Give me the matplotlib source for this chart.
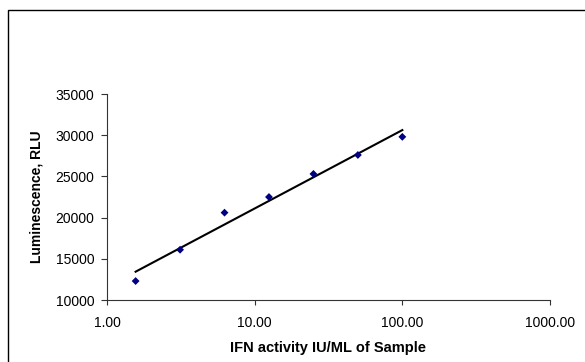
import numpy as np
import matplotlib.pyplot as plt
from matplotlib.patches import Rectangle
from matplotlib.ticker import FixedLocator, FuncFormatter, NullLocator

plt.rcParams['font.family'] = ['Liberation Sans', 'DejaVu Sans']

# IFN standard curve (two-fold dilutions)
ifn_activity = [1.5625, 3.125, 6.25, 12.5, 25, 50, 100]
luminescence = [12300, 16100, 20600, 22500, 25300, 27600, 29800]

x_ticks = [1, 10, 100, 1000]
y_ticks = [10000, 15000, 20000, 25000, 30000, 35000]

# logarithmic trendline (least squares on ln x)
slope, intercept = np.polyfit(np.log(ifn_activity), luminescence, 1)
fit_x = np.exp(np.linspace(np.log(ifn_activity[0]), np.log(ifn_activity[-1]), 50))
fit_y = slope * np.log(fit_x) + intercept

fig = plt.figure(figsize=(5.85, 3.62), dpi=100)
fig.patches.append(Rectangle((8 / 585, -0.1), 1.2, 1 - 10 / 362 + 0.1,
                             transform=fig.transFigure, fill=False,
                             edgecolor='black', linewidth=1.0))

ax = fig.add_axes([107 / 585, 62 / 362, 443 / 585, 206 / 362])
ax.plot(fit_x, fit_y, color='black', linewidth=1.5, zorder=2)
ax.scatter(ifn_activity, luminescence, marker='D', s=16, color='#000080',
           edgecolors='none', zorder=3)

ax.set_xscale('log')
ax.set_xlim(1, 1000)
ax.set_ylim(10000, 35000)
ax.xaxis.set_major_locator(FixedLocator(x_ticks))
ax.xaxis.set_minor_locator(NullLocator())
ax.xaxis.set_major_formatter(FuncFormatter(lambda v, p: f"{v:.2f}"))
ax.set_yticks(y_ticks)

for s in ['top', 'right']:
    ax.spines[s].set_visible(False)
for s in ['left', 'bottom']:
    ax.spines[s].set_linewidth(0.8)
    ax.spines[s].set_color('#333333')

ax.tick_params(axis='both', direction='out', width=0.8,
               labelsize=10, color='#333333')
ax.tick_params(axis='x', length=3.5, pad=8)
ax.tick_params(axis='y', length=4, pad=5)

ax.set_xlabel('IFN activity IU/ML of Sample', fontsize=10.5, fontweight='bold',
              labelpad=8)
ax.set_ylabel('Luminescence, RLU', fontsize=10, fontweight='bold', labelpad=9)

fig.savefig('out.png', dpi=100)
